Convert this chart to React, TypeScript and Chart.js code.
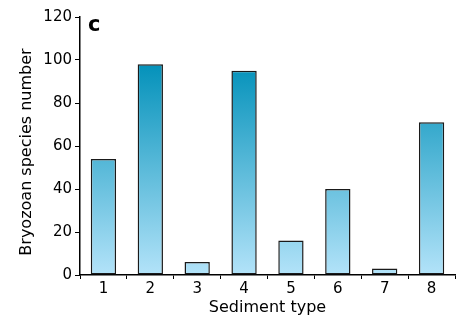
import React, { useEffect, useRef } from "react";
import { Chart, registerables } from "chart.js";

Chart.register(...registerables);

const categories = ["1", "2", "3", "4", "5", "6", "7", "8"];
const speciesNumber = [54, 98, 6, 95, 16, 40, 3, 71];
const yTicks = [0, 20, 40, 60, 80, 100, 120];
const yTitle = "Bryozoan species number";
const xTitle = "Sediment type";
const panelText = "c";

const FONT = "'DejaVu Sans', sans-serif";

const annotations = {
  id: "annotations",
  afterDraw(chart: any) {
    const { ctx, chartArea } = chart;
    ctx.save();
    ctx.font = `bold 21px ${FONT}`;
    ctx.fillStyle = "#000";
    ctx.textBaseline = "alphabetic";
    ctx.textAlign = "left";
    ctx.fillText(panelText, chartArea.left + 8, chartArea.top + 14);
    ctx.translate(27, (chartArea.top + chartArea.bottom) / 2 + 6);
    ctx.rotate(-Math.PI / 2);
    ctx.font = `16px ${FONT}`;
    ctx.textAlign = "center";
    ctx.textBaseline = "middle";
    ctx.fillText(yTitle, 0, 0);
    ctx.restore();
  },
};

export default function App() {
  const ref = useRef<HTMLCanvasElement | null>(null);
  useEffect(() => {
    if (!ref.current) return;
    const chart = new Chart(ref.current, {
      type: "bar",
      data: {
        labels: categories,
        datasets: [
          {
            data: speciesNumber,
            backgroundColor: (c: any) => {
              const ch = c.chart;
              const area = ch.chartArea;
              if (!area) return "#4fb0d5";
              const ys = ch.scales.y;
              const g = ch.ctx.createLinearGradient(0, ys.getPixelForValue(100), 0, ys.getPixelForValue(0));
              g.addColorStop(0, "#0090b9");
              g.addColorStop(1, "#b3e3f9");
              return g;
            },
            borderColor: "#1a1a1a",
            borderWidth: 1.5,
            borderSkipped: false,
            barPercentage: 0.6,
            categoryPercentage: 0.9,
          },
        ],
      },
      options: {
        animation: false,
        responsive: false,
        maintainAspectRatio: false,
        layout: { padding: { top: 17, right: 9, left: 0, bottom: 0 } },
        plugins: { legend: { display: false }, tooltip: { enabled: false } },
        scales: {
          x: {
            grid: {
              display: true,
              offset: true,
              drawOnChartArea: false,
              drawTicks: true,
              tickLength: 4,
              color: "#000",
              tickColor: "#000",
            },
            border: { display: true, color: "#000", width: 1.5 },
            ticks: { color: "#000", font: { family: FONT, size: 15 }, padding: 1 },
            title: {
              display: true,
              text: xTitle,
              color: "#000",
              font: { family: FONT, size: 16 },
              padding: { top: 2, bottom: 0 },
            },
            afterFit: (s: any) => {
              s.height = 42;
            },
          },
          y: {
            min: 0,
            max: 120,
            afterBuildTicks: (s: any) => {
              s.ticks = yTicks.map((v) => ({ value: v }));
            },
            grid: {
              display: true,
              drawOnChartArea: false,
              drawTicks: true,
              tickLength: 5,
              color: "#000",
              tickColor: "#000",
            },
            border: { display: true, color: "#000", width: 1.5 },
            ticks: { color: "#000", font: { family: FONT, size: 15 }, padding: 3 },
            afterFit: (s: any) => {
              s.width = 80;
            },
          },
        },
      },
      plugins: [annotations],
    });
    return () => chart.destroy();
  }, []);
  return (
    <div style={{ position: "fixed", left: 0, top: 0, width: 464, height: 317, background: "#fff" }}>
      <canvas ref={ref} width={464} height={317} style={{ display: "block" }} />
    </div>
  );
}
